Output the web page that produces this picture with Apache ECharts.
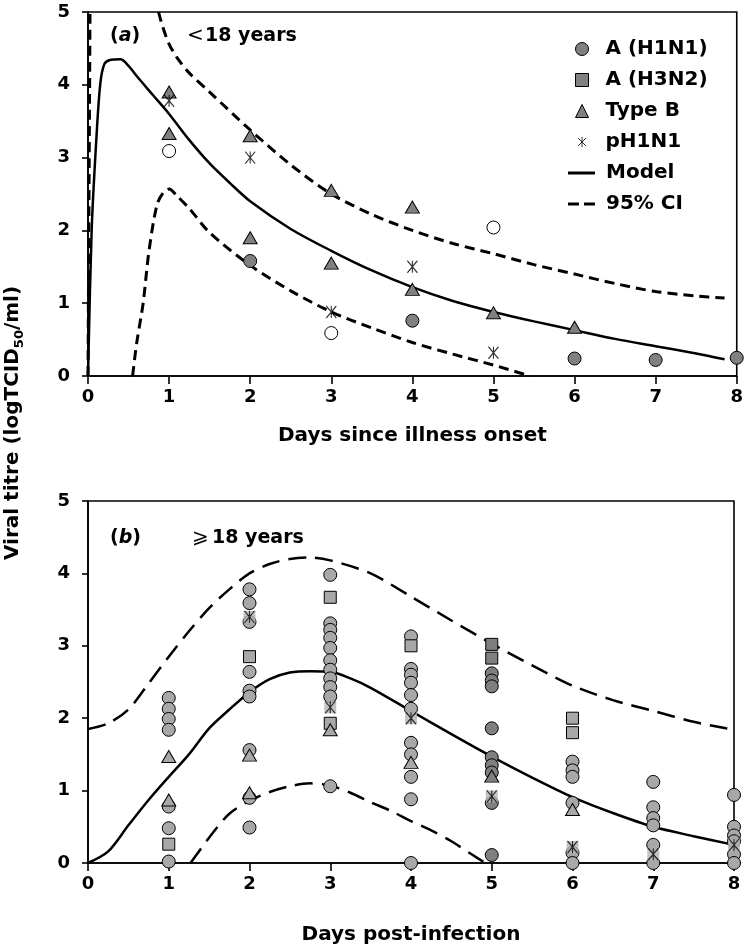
<!DOCTYPE html>
<html><head><meta charset="utf-8">
<script src="https://cdn.jsdelivr.net/npm/echarts@6/dist/echarts.min.js"></script>
<style>html,body{margin:0;padding:0;background:#fff}#c{width:746px;height:950px}</style>
</head><body><div id="c"></div>
<script>
// ---------- Panel (a): < 18 years ----------
const aH1N1 = [[2,1.58],[4,0.76],[6,0.24],[7,0.22],[8,0.25]];
const aH3N2 = [];
const aTypeB = [[1,3.9],[1,3.33],[2,3.3],[2,1.9],[3,2.55],[3,1.55],[4,2.32],[4,1.19],[5,0.87],[6,0.67]];
const aPH1N1 = [[1,3.78],[2,3.0],[3,0.88],[4,1.5],[5,0.32]];
const aOpen = [[1,3.09],[3,0.59],[5,2.04]];
const aModel = [[0,0],[0.045,2.0],[0.1,3.2],[0.15,4.0],[0.2,4.28],[0.27,4.34],[0.4,4.35],[0.5,4.26],[0.6,4.12],[0.8,3.86],[1.0,3.6],[1.25,3.24],[1.5,2.92],[1.75,2.65],[2.0,2.4],[2.5,2.02],[3.0,1.72],[3.5,1.45],[4.0,1.22],[4.5,1.03],[5.0,0.88],[5.5,0.75],[6.0,0.63],[6.5,0.51],[7.0,0.41],[7.5,0.31],[7.85,0.23]];
const aUpperCI1 = [[0,0],[0.01,2.0],[0.025,5.0]];
const aUpperCI2 = [[0.87,5.0],[0.92,4.8],[1.0,4.56],[1.1,4.37],[1.25,4.16],[1.5,3.9],[2.0,3.38],[2.5,2.9],[3.0,2.5],[3.5,2.22],[4.0,2.0],[4.5,1.82],[5.0,1.68],[5.5,1.53],[6.0,1.4],[6.5,1.27],[7.0,1.16],[7.5,1.1],[7.85,1.07]];
const aLowerCI = [[0.55,0],[0.6,0.45],[0.68,1.0],[0.75,1.7],[0.85,2.35],[0.93,2.52],[1.0,2.57],[1.1,2.47],[1.25,2.3],[1.5,1.97],[2.0,1.52],[2.5,1.17],[3.0,0.88],[3.5,0.66],[4.0,0.46],[4.5,0.3],[5.0,0.15],[5.45,0]];

// ---------- Panel (b): >= 18 years ----------
const bH1N1 = [
 [1,2.28],[1,2.13],[1,1.99],[1,1.84],[1,0.78],[1,0.48],[1,0.02],
 [2,3.78],[2,3.59],[2,3.33],[2,2.64],[2,2.38],[2,2.3],[2,1.56],[2,0.9],[2,0.49],
 [3,3.98],[3,3.31],[3,3.22],[3,3.11],[3,2.97],[3,2.8],[3,2.67],[3,2.55],[3,2.43],[3,2.3],[3,1.06],
 [4,3.13],[4,2.68],[4,2.6],[4,2.49],[4,2.32],[4,2.13],[4,1.66],[4,1.5],[4,1.19],[4,0.88],[4,0],
 [5,2.62],[5,2.52],[5,2.44],[5,1.86],[5,1.46],[5,1.35],[5,1.25],[5,0.83],[5,0.11],
 [6,1.4],[6,1.28],[6,1.19],[6,0.83],[6,0.14],[6,0],
 [7,1.12],[7,0.77],[7,0.62],[7,0.52],[7,0.25],[7,0],
 [8,0.94],[8,0.5],[8,0.38],[8,0.3],[8,0.12],[8,0]
];
const bH3N2 = [[1,0.26],[2,2.85],[3,3.67],[3,1.93],[4,3.0],[5,3.02],[5,2.83],[6,2.0],[6,1.8]];
const bTypeB = [[1,1.47],[1,0.87],[2,1.49],[2,0.97],[3,1.84],[4,1.39],[5,1.2],[6,0.74]];
const bPH1N1 = [[2,3.4],[3,2.15],[4,2.0],[5,0.92],[6,0.22],[7,0.12],[8,0.25]];
const bModel = [[0,0],[0.25,0.16],[0.5,0.52],[0.75,0.87],[1.0,1.19],[1.25,1.5],[1.5,1.86],[1.75,2.12],[2.0,2.36],[2.25,2.54],[2.5,2.63],[2.75,2.65],[3.0,2.64],[3.25,2.55],[3.5,2.42],[4.0,2.1],[4.5,1.78],[5.0,1.47],[5.5,1.18],[6.0,0.91],[6.5,0.69],[7.0,0.5],[7.5,0.37],[8.0,0.25]];
const bUpperCI = [[0,1.85],[0.25,1.93],[0.5,2.12],[0.75,2.48],[1.0,2.85],[1.25,3.2],[1.5,3.52],[1.75,3.78],[2.0,4.0],[2.25,4.13],[2.5,4.2],[2.75,4.22],[3.0,4.18],[3.5,4.0],[4.0,3.68],[4.5,3.35],[5.0,3.03],[5.5,2.73],[6.0,2.45],[6.5,2.25],[7.0,2.1],[7.5,1.95],[7.9,1.86],[8.0,1.84]];
const bLowerCI = [[1.27,0],[1.5,0.35],[1.75,0.68],[2.0,0.86],[2.25,0.98],[2.5,1.06],[2.75,1.1],[3.0,1.07],[3.25,0.97],[3.5,0.84],[3.75,0.72],[4.0,0.58],[4.25,0.45],[4.5,0.3],[4.75,0.12],[4.92,0]];

// ---------- axis ----------
const xMin = 0, xMax = 8, xStep = 1;
const yMin = 0, yMax = 5, yStep = 1;

const FONT = 'DejaVu Sans';
const STAR = 'path://M0,0L10,12M10,0L0,12M5,0L5,12';
const STAR_LEGEND = 'path://M0,0M13,13M2.5,2.5L10.5,10.5M10.5,2.5L2.5,10.5M6.5,1.5L6.5,11.5';
const SOLID_LEGEND = 'path://M0,0M27,13M0,5L27,5L27,8L0,8Z';
const DASH_LEGEND = 'path://M0,0M27,13M0,5L11,5L11,8L0,8ZM16,5L27,5L27,8L16,8Z';
const darkGrey = '#808080', lightGrey = '#a8a8a8', day5Grey = '#7f7f7f';

function xAx(g, name, gap){
  return {type:'value', gridIndex:g, min:xMin, max:xMax, interval:xStep,
    name:name, nameLocation:'middle', nameGap:gap,
    nameTextStyle:{fontFamily:FONT, fontWeight:'bold', fontSize:20, color:'#000'},
    axisLine:{show:true, onZero:false, lineStyle:{color:'#000', width:1.6}},
    axisTick:{show:true, inside:false, length:8, lineStyle:{color:'#000', width:1.6}},
    axisLabel:{fontFamily:FONT, fontWeight:'bold', fontSize:18, color:'#000', margin:12},
    splitLine:{show:false}};
}
function yAx(g){
  return {type:'value', gridIndex:g, min:yMin, max:yMax, interval:yStep,
    axisLine:{show:true, onZero:false, lineStyle:{color:'#000', width:1.6}},
    axisTick:{show:true, inside:false, length:6, lineStyle:{color:'#000', width:1.6}},
    axisLabel:{fontFamily:FONT, fontWeight:'bold', fontSize:18, color:'#000', margin:18},
    splitLine:{show:false}};
}
function sc(name, g, data, symbol, size, color, extra){
  return Object.assign({type:'scatter', name:name, xAxisIndex:g, yAxisIndex:g, data:data,
    symbol:symbol, symbolSize:size, clip:false, z:5,
    itemStyle:{color:color, borderColor:'#000', borderWidth:1, opacity:1},
    emphasis:{disabled:true}}, extra||{});
}
function ln(name, g, data, width, dash){
  return {type:'line', name:name, xAxisIndex:g, yAxisIndex:g, data:data, symbol:'none', showSymbol:false,
    smooth:0.3, z:3, lineStyle:{color:'#000', width:width, type:dash||'solid', cap:'butt'},
    itemStyle:{color:'#000'}, emphasis:{disabled:true}};
}
const bColor = p => (p.value[0] === 5 ? day5Grey : lightGrey);

const option = {
  animation:false,
  backgroundColor:'#fff',
  grid:[
    {left:88, top:12, right:9, height:364, show:true, borderColor:'#000', borderWidth:1.6},
    {left:88, top:501, right:12, height:362, show:true, borderColor:'#000', borderWidth:1.6}
  ],
  xAxis:[xAx(0,'Days since illness onset',50), xAx(1,'Days post-infection',62)],
  yAxis:[yAx(0), yAx(1)],
  legend:[
    {data:['A (H1N1)','A (H3N2)','Type B',{name:'pH1N1', icon:STAR_LEGEND}],
     orient:'vertical', left:570, top:34, itemWidth:13, itemHeight:13, itemGap:11, selectedMode:false,
     itemStyle:{borderWidth:1, borderColor:'#000'},
     textStyle:{fontFamily:FONT, fontWeight:'bold', fontSize:20, color:'#000', padding:[0,0,0,12]}},
    {data:[{name:'Model', icon:SOLID_LEGEND},{name:'95% CI', icon:DASH_LEGEND}], orient:'vertical', left:563, top:158,
     itemWidth:27, itemHeight:13, itemGap:11, selectedMode:false,
     itemStyle:{color:'#000', borderWidth:0},
     textStyle:{fontFamily:FONT, fontWeight:'bold', fontSize:20, color:'#000', padding:[0,0,0,6]}}
  ],
  series:[
    ln('Model',0,aModel,2.5),
    ln('95% CI',0,aUpperCI1,3,[10,6]),
    ln('95% CI',0,aUpperCI2,3,[10,6]),
    ln('95% CI',0,aLowerCI,3,[10,6]),
    sc('A (H1N1)',0,aH1N1,'circle',13,darkGrey),
    sc('A (H3N2)',0,aH3N2,'rect',12,darkGrey),
    sc('Type B',0,aTypeB,'triangle',[14,12],darkGrey),
    sc('pH1N1',0,aPH1N1,STAR,[10,12],'transparent',{itemStyle:{color:'transparent', borderColor:'#000', borderWidth:1.2}}),
    sc('unlabelled',0,aOpen,'circle',13,'#fff'),

    ln('Model',1,bModel,2.5),
    ln('95% CI',1,bUpperCI,2.5,[18,9]),
    ln('95% CI',1,bLowerCI,2.5,[18,9]),
    sc('A (H1N1)',1,bH1N1,'circle',13,bColor),
    sc('A (H3N2)',1,bH3N2,'rect',12,bColor),
    sc('Type B',1,bTypeB,'triangle',[14,12],bColor),
    sc('pH1N1',1,bPH1N1,'rect',12,'#b4b4b4',{itemStyle:{color:'#b4b4b4', borderWidth:0}}),
    sc('pH1N1',1,bPH1N1,STAR,[10,12],'transparent',{itemStyle:{color:'transparent', borderColor:'#000', borderWidth:1.2}})
  ],
  graphic:[
    {type:'text', x:13, y:423, rotation:Math.PI/2, style:{
      text:'{m|Viral titre (logTCID}{s|50}{m|/ml)}', align:'center', verticalAlign:'middle',
      rich:{m:{fontFamily:FONT, fontWeight:'bold', fontSize:20, lineHeight:26, fill:'#000'},
            s:{fontFamily:FONT, fontWeight:'bold', fontSize:13, lineHeight:16, verticalAlign:'bottom', fill:'#000'}}}},
    {type:'text', x:110, y:36, style:{text:'{b|(}{i|a}{b|)}', verticalAlign:'middle',
      rich:{b:{fontFamily:FONT, fontWeight:'bold', fontSize:19, fill:'#000'}, i:{fontFamily:FONT, fontWeight:'bold', fontStyle:'italic', fontSize:19, fill:'#000'}}}},
    {type:'text', x:187, y:36, style:{text:'<', verticalAlign:'middle', fontFamily:FONT, fontSize:20, fill:'#000'}},
    {type:'text', x:205, y:36, style:{text:'18 years', verticalAlign:'middle', fontFamily:FONT, fontWeight:'bold', fontSize:19, fill:'#000'}},
    {type:'text', x:110, y:538, style:{text:'{b|(}{i|b}{b|)}', verticalAlign:'middle',
      rich:{b:{fontFamily:FONT, fontWeight:'bold', fontSize:19, fill:'#000'}, i:{fontFamily:FONT, fontWeight:'bold', fontStyle:'italic', fontSize:19, fill:'#000'}}}},
    {type:'text', x:192, y:538, style:{text:'\u2A7E', verticalAlign:'middle', fontFamily:FONT, fontSize:20, fill:'#000'}},
    {type:'text', x:212, y:538, style:{text:'18 years', verticalAlign:'middle', fontFamily:FONT, fontWeight:'bold', fontSize:19, fill:'#000'}}
  ]
};
const chart = echarts.init(document.getElementById('c'), null, {renderer:'canvas'});
chart.setOption(option);
</script>
</body></html>
